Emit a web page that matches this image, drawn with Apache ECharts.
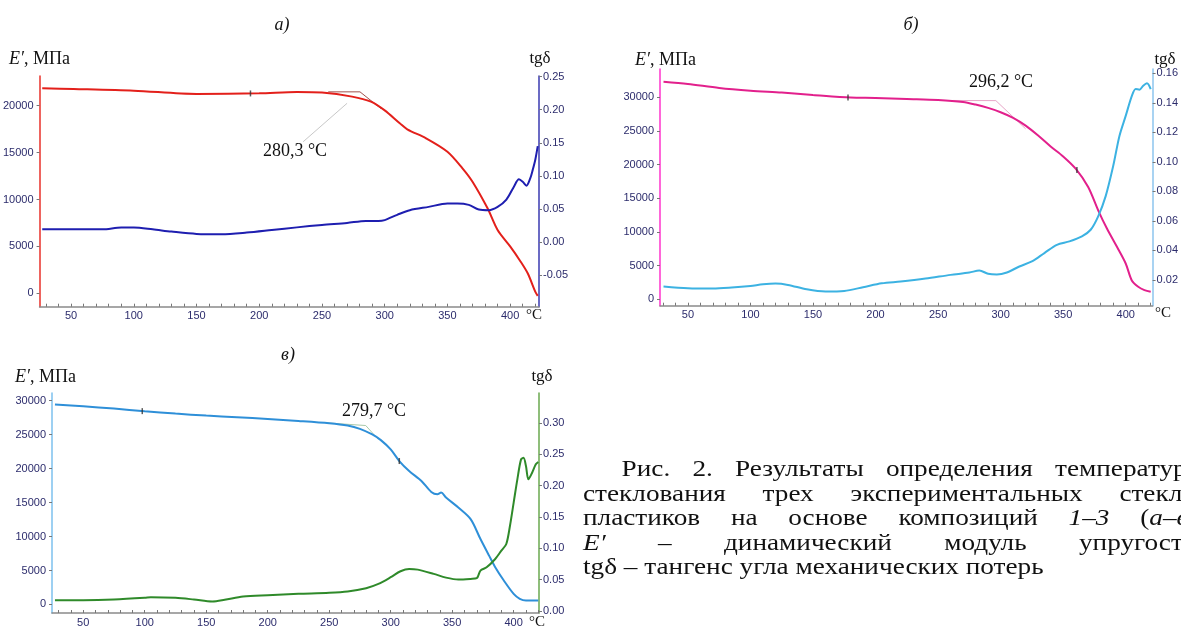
<!DOCTYPE html>
<html>
<head>
<meta charset="utf-8">
<script src="https://cdn.jsdelivr.net/npm/echarts@6/dist/echarts.min.js"></script>
<style>
  html, body { margin:0; padding:0; background:#fff; width:1181px; height:628px; overflow:hidden; }
  #chart { position:absolute; left:0; top:0; width:1181px; height:628px; }
  #caption { position:absolute; left:583px; top:456px; width:548px; font-family:"Liberation Serif","DejaVu Serif",serif; font-size:24px; line-height:24.5px; color:#111; transform:scaleX(1.135); transform-origin:0 0; }
  #caption div { white-space:nowrap; }
  #caption .j { text-align:justify; text-align-last:justify; white-space:normal; }
</style>
</head>
<body>
<div id="chart"></div>
<div id="caption">
  <div class="j" style="margin-left:34px">Рис. 2. Результаты определения температуры</div>
  <div class="j">стеклования трех экспериментальных стекло-</div>
  <div class="j">пластиков на основе композиций <i>1–3</i> (<i>а–в</i>):</div>
  <div class="j"><i>E′</i> – динамический модуль упругости;</div>
  <div>tgδ – тангенс угла механических потерь</div>
</div>
<script>
// ---------- data (temperature °C, E' MPa, tg delta) ----------
// panel а
const aE_T = [27, 52, 100, 150, 200, 230, 250, 274, 289, 300, 312, 318, 333, 350, 362, 370, 382, 390, 400, 408, 414, 420, 422];
const aE   = [21860, 21790, 21610, 21250, 21320, 21460, 21400, 20970, 20430, 19500, 18130, 17490, 16530, 15100, 13330, 11900, 9060, 6750, 5000, 3450, 2130, 180, -280];
const aTg_T = [27, 50, 75, 90, 100, 115, 130, 150, 170, 190, 210, 230, 250, 270, 285, 295, 300, 310, 320, 335, 350, 358, 367, 375, 383, 390, 397, 403, 407, 410, 413, 416, 418, 420, 422];
const aTg   = [0.019, 0.019, 0.019, 0.0217, 0.0217, 0.019, 0.0156, 0.0121, 0.0116, 0.0141, 0.018, 0.022, 0.0257, 0.0287, 0.0317, 0.0317, 0.033, 0.041, 0.048, 0.053, 0.058, 0.058, 0.056, 0.049, 0.048, 0.053, 0.064, 0.0836, 0.0947, 0.091, 0.085, 0.096, 0.109, 0.124, 0.145];
const aTan_T = [255, 280.3, 297];
const aTan_E = [21480, 21480, 19700];
const aLead_T = [235, 270];
const aLead_E = [16160, 20260];
const aMark_T = [193];
const aMark_E = [21310];

// panel б
const bE_T = [30.5, 50, 75, 100, 125, 150, 180, 200, 225, 250, 270, 280, 290, 300, 310, 320, 330, 340, 350, 360, 370, 378, 385, 393, 400, 405, 410, 415, 420];
const bE   = [32290, 31950, 31360, 30960, 30670, 30320, 29930, 29880, 29730, 29580, 29280, 28890, 28400, 27760, 26920, 25780, 24310, 22680, 21200, 19380, 16660, 13210, 10500, 7790, 5320, 2760, 1870, 1380, 1130];
const bTg_T = [30.5, 50, 70, 85, 100, 110, 120, 130, 145, 160, 175, 190, 205, 220, 240, 260, 275, 283, 290, 297, 305, 315, 325, 335, 345, 355, 365, 372, 378, 384, 390, 395, 400, 405, 408, 411, 414, 417, 420];
const bTg   = [0.0155, 0.0143, 0.0141, 0.0148, 0.0159, 0.017, 0.0175, 0.0166, 0.0136, 0.0121, 0.0125, 0.015, 0.0177, 0.0189, 0.0209, 0.0234, 0.025, 0.0264, 0.0241, 0.0236, 0.025, 0.0291, 0.0325, 0.0382, 0.0438, 0.0461, 0.0495, 0.054, 0.0631, 0.0768, 0.0972, 0.1176, 0.1312, 0.1449, 0.1494, 0.149, 0.1517, 0.1533, 0.1494];
const bTan_T = [262, 296.2, 320];
const bTan_E = [29500, 29480, 25300];
const bMark_T = [178, 361];
const bMark_E = [29940, 19200];

// panel в
const cE_T = [27, 50, 75, 100, 125, 150, 175, 200, 225, 250, 265, 275, 285, 292, 300, 307, 315, 325, 333, 338, 341, 345, 355, 365, 373, 380, 385, 392, 400, 405, 410, 420];
const cE   = [29430, 29180, 28840, 28450, 28110, 27810, 27570, 27320, 27030, 26690, 26350, 25860, 25030, 24200, 22830, 21120, 19650, 18180, 16570, 16230, 16470, 15740, 14270, 12560, 9630, 7190, 5480, 3520, 1560, 830, 590, 590];
const cTg_T = [27, 50, 75, 100, 105, 125, 140, 155, 165, 180, 200, 225, 250, 265, 280, 290, 300, 308, 315, 322, 335, 345, 355, 365, 370, 373, 378, 385, 390, 394, 397, 400, 403, 406, 408, 410, 412, 415, 418, 420];
const cTg   = [0.0175, 0.0175, 0.0185, 0.0212, 0.0222, 0.0212, 0.0185, 0.0153, 0.018, 0.0233, 0.0254, 0.0275, 0.0291, 0.0312, 0.0365, 0.0434, 0.054, 0.0635, 0.0672, 0.0661, 0.0593, 0.0534, 0.0503, 0.0513, 0.0524, 0.0646, 0.0698, 0.0831, 0.0963, 0.1069, 0.136, 0.173, 0.21, 0.2418, 0.2444, 0.2312, 0.21, 0.2206, 0.2339, 0.2376];
const cTan_T = [248, 279.7, 290];
const cTan_E = [26740, 26350, 24290];
const cMark_T = [98, 307];
const cMark_E = [28470, 21120];

// tick labels
const xTicks = [50, 100, 150, 200, 250, 300, 350, 400];
const xMinor = [30, 40, 50, 60, 70, 80, 90, 100, 110, 120, 130, 140, 150, 160, 170, 180, 190, 200, 210, 220, 230, 240, 250, 260, 270, 280, 290, 300, 310, 320, 330, 340, 350, 360, 370, 380, 390, 400, 410, 420];
const aLeftTicks = [0, 5000, 10000, 15000, 20000];
const aRightTicks = [-0.05, 0, 0.05, 0.10, 0.15, 0.20, 0.25];
const bLeftTicks = [0, 5000, 10000, 15000, 20000, 25000, 30000];
const bRightTicks = [0.02, 0.04, 0.06, 0.08, 0.10, 0.12, 0.14, 0.16];
const cLeftTicks = [0, 5000, 10000, 15000, 20000, 25000, 30000];
const cRightTicks = [0, 0.05, 0.10, 0.15, 0.20, 0.25, 0.30];

// ---------- build ----------
const zip = (xs, ys) => xs.map((x, i) => [x, ys[i]]);
const LBL = '#2c2c6c';
const SANS = '"Liberation Sans", Arial, sans-serif';
const SERIF = '"Liberation Serif", "Times New Roman", serif';

function xAx(grid, min, max) {
  return {
    type: 'value', gridIndex: grid, min: min, max: max,
    axisLine: { onZero: false, lineStyle: { color: '#8a8a8a', width: 1.5 } },
    axisTick: { inside: true, length: 3, lineStyle: { color: '#777' }, customValues: xMinor },
    axisLabel: { customValues: xTicks, color: LBL, fontFamily: SANS, fontSize: 11, margin: 4 },
    splitLine: { show: false }
  };
}
function yAx(grid, pos, min, max, ticks, color, fmt) {
  return {
    type: 'value', gridIndex: grid, position: pos, min: min, max: max,
    axisLine: { show: true, onZero: false, lineStyle: { color: color, width: 1.5 } },
    axisTick: { show: true, length: 3, lineStyle: { color: '#777' }, customValues: ticks },
    axisLabel: { customValues: ticks, color: LBL, fontFamily: SANS, fontSize: 11, margin: pos === 'left' ? 6 : 4, formatter: fmt },
    splitLine: { show: false }
  };
}
const intFmt = v => String(Math.round(v));
const decFmt = v => v.toFixed(2);

function line(xi, yi, data, color, width, smooth, z) {
  return { type: 'line', xAxisIndex: xi, yAxisIndex: yi, data: data, showSymbol: false, symbol: 'none',
           smooth: smooth, lineStyle: { color: color, width: width }, z: z || 2, silent: true };
}
function marks(xi, yi, data) {
  return { type: 'scatter', xAxisIndex: xi, yAxisIndex: yi, data: data, symbol: 'rect', symbolSize: [1.5, 6],
           itemStyle: { color: '#333' }, z: 5, silent: true };
}

function txt(x, y, text, font, align, rich) {
  const st = { text: text, font: font, fill: '#111', align: align || 'center', textAlign: align || 'center',
               verticalAlign: 'middle', textVerticalAlign: 'middle' };
  if (rich) st.rich = rich;
  return { type: 'text', x: x, y: y, style: st, z: 10 };
}
const ePrime = (x, y) => txt(x, y, '{i|E′}{n|, МПа}', '18px ' + SERIF, 'left', {
  i: { fontStyle: 'italic', fontSize: 18, fontFamily: SERIF, fill: '#111' },
  n: { fontSize: 18, fontFamily: SERIF, fill: '#111' }
});

const chart = echarts.init(document.getElementById('chart'), null, { renderer: 'canvas' });
chart.setOption({
  animation: false,
  backgroundColor: '#fff',
  grid: [
    { left: 39, top: 76, width: 500, height: 230.7 },
    { left: 660, top: 69, width: 496, height: 236.7 },
    { left: 52, top: 393, width: 487, height: 221.3 }
  ],
  xAxis: [
    xAx(0, 24.9, 423),
    xAx(1, 27.7, 421.5),
    xAx(2, 24.6, 420.6)
  ],
  yAxis: [
    yAx(0, 'left', -1430, 23170, aLeftTicks, '#e8302a', intFmt),
    yAx(0, 'right', -0.098, 0.251, aRightTicks, '#3a3ab0', decFmt),
    yAx(1, 'left', -940, 34170, bLeftTicks, '#ff33cc', intFmt),
    yAx(1, 'right', 0.0025, 0.163, bRightTicks, '#8cc4ee', decFmt),
    yAx(2, 'left', -1260, 31140, cLeftTicks, '#7cc0ee', intFmt),
    yAx(2, 'right', -0.003, 0.3476, cRightTicks, '#6aa84f', decFmt)
  ],
  series: [
    line(0, 0, zip(aTan_T, aTan_E), '#a0524d', 1, false, 1),
    line(0, 0, zip(aLead_T, aLead_E), '#c8c8c8', 1, false, 1),
    line(0, 0, zip(aE_T, aE), '#e3201b', 2, 0.3),
    line(0, 1, zip(aTg_T, aTg), '#1e1eb0', 2, 0.3),
    marks(0, 0, zip(aMark_T, aMark_E)),

    line(1, 2, zip(bTan_T, bTan_E), '#e8a6c8', 1, false, 1),
    line(1, 2, zip(bE_T, bE), '#e2208c', 2, 0.3),
    line(1, 3, zip(bTg_T, bTg), '#3cb2e2', 2, 0.3),
    marks(1, 2, zip(bMark_T, bMark_E)),

    line(2, 4, zip(cTan_T, cTan_E), '#a9c9a9', 1, false, 1),
    line(2, 4, zip(cE_T, cE), '#2e8fd8', 2, 0.3),
    line(2, 5, zip(cTg_T, cTg), '#2f8a2a', 2, 0.3),
    marks(2, 4, zip(cMark_T, cMark_E))
  ],
  graphic: [
    txt(282, 25, 'а)', 'italic 18px ' + SERIF),
    txt(911, 25, 'б)', 'italic 18px ' + SERIF),
    txt(288, 355, 'в)', 'italic 18px ' + SERIF),
    ePrime(9, 59),
    txt(540, 59, 'tgδ', '17px ' + SERIF),
    ePrime(635, 60),
    txt(1165, 60, 'tgδ', '17px ' + SERIF),
    ePrime(15, 377),
    txt(542, 377, 'tgδ', '17px ' + SERIF),
    txt(295, 151, '280,3 °C', '18px ' + SERIF),
    txt(1001, 82, '296,2 °C', '18px ' + SERIF),
    txt(374, 411, '279,7 °C', '18px ' + SERIF),
    txt(534, 315, '°C', '15px ' + SERIF),
    txt(1163, 313, '°C', '15px ' + SERIF),
    txt(537, 622, '°C', '15px ' + SERIF)
  ]
});
</script>
</body>
</html>
